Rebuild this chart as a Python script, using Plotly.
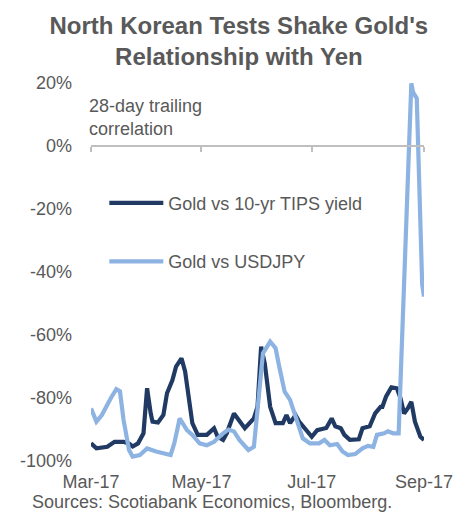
import plotly.graph_objects as go

# ---- data ----
TIPS_DATES = ["2017-03-01","2017-03-04","2017-03-10","2017-03-14","2017-03-19","2017-03-22","2017-03-24",
              "2017-03-27","2017-03-30","2017-04-01","2017-04-03","2017-04-04","2017-04-07","2017-04-10",
              "2017-04-12","2017-04-15","2017-04-17","2017-04-20","2017-04-22","2017-04-24","2017-04-26",
              "2017-04-29","2017-05-04","2017-05-08","2017-05-10","2017-05-13","2017-05-15","2017-05-19",
              "2017-05-21","2017-05-25","2017-05-30","2017-06-01","2017-06-03","2017-06-05","2017-06-08",
              "2017-06-11","2017-06-15","2017-06-17","2017-06-19","2017-06-22","2017-06-24","2017-06-27",
              "2017-07-01","2017-07-04","2017-07-09","2017-07-12","2017-07-14","2017-07-17","2017-07-19",
              "2017-07-22","2017-07-27","2017-07-29","2017-08-02","2017-08-05","2017-08-08","2017-08-09",
              "2017-08-11","2017-08-14","2017-08-17","2017-08-19","2017-08-21","2017-08-23","2017-08-25",
              "2017-08-27","2017-08-30","2017-09-01"]
TIPS_VALUES = [-94.4,-96.0,-95.5,-93.9,-93.9,-94.5,-95.4,
               -94.4,-91.2,-76.9,-84.9,-87.5,-87.8,-85.4,
               -78.5,-74.3,-70.0,-67.4,-71.6,-80.6,-88.0,
               -91.7,-91.7,-89.6,-92.3,-93.3,-91.2,-84.9,
               -86.5,-89.6,-86.5,-82.8,-63.7,-69.0,-82.8,
               -88.0,-88.0,-85.4,-88.0,-85.4,-87.5,-89.6,
               -92.3,-90.2,-89.5,-86.5,-89.0,-89.6,-91.7,
               -93.3,-93.1,-89.6,-89.0,-84.9,-82.8,-82.8,
               -79.6,-76.6,-76.9,-80.0,-84.9,-83.3,-81.2,
               -87.5,-92.3,-93.3]

JPY_DATES = ["2017-03-01","2017-03-04","2017-03-07","2017-03-10","2017-03-12","2017-03-15","2017-03-17",
             "2017-03-19","2017-03-22","2017-03-24","2017-03-28","2017-04-01","2017-04-06","2017-04-14",
             "2017-04-16","2017-04-19","2017-04-23","2017-04-26","2017-04-30","2017-05-04","2017-05-08",
             "2017-05-13","2017-05-16","2017-05-19","2017-05-22","2017-05-27","2017-05-30","2017-06-01",
             "2017-06-04","2017-06-08","2017-06-11","2017-06-13","2017-06-16","2017-06-19","2017-06-23",
             "2017-06-26","2017-06-30","2017-07-05","2017-07-08","2017-07-11","2017-07-15","2017-07-18",
             "2017-07-21","2017-07-25","2017-07-29","2017-08-01","2017-08-04","2017-08-06","2017-08-10",
             "2017-08-12","2017-08-15","2017-08-18","2017-08-25","2017-08-26","2017-08-28","2017-08-31",
             "2017-09-01"]
JPY_VALUES = [-83.3,-87.5,-85.4,-81.7,-80.0,-77.2,-77.9,
              -87.0,-96.5,-98.6,-98.1,-96.0,-97.0,-98.1,
              -94.4,-86.5,-90.2,-91.7,-94.4,-95.0,-93.9,
              -91.2,-90.0,-90.6,-93.3,-96.5,-95.5,-83.8,
              -65.8,-62.1,-64.2,-70.0,-78.0,-80.6,-87.5,
              -92.8,-94.4,-94.4,-93.3,-95.0,-94.6,-97.0,
              -98.1,-97.8,-96.0,-95.2,-95.5,-91.7,-91.2,
              -90.6,-91.2,-91.2,19.9,17.0,15.1,-44.0,
              -47.8]

X_TICKS = ["2017-03-01", "2017-05-01", "2017-07-01", "2017-09-01"]
X_TICK_LABELS = ["Mar-17", "May-17", "Jul-17", "Sep-17"]
Y_TICKS = [-100, -80, -60, -40, -20, 0, 20]
Y_TICK_LABELS = ["-100%", "-80%", "-60%", "-40%", "-20%", "0%", "20%"]

SERIES_NAMES = ["Gold vs 10-yr TIPS yield", "Gold vs USDJPY"]
DARK = "#203a63"
LIGHT = "#8db3e2"
GRAY_TXT = "#595959"
AXIS_GRAY = "#bfbfbf"
FONT = "Liberation Sans, Arial, sans-serif"

fig = go.Figure()
fig.add_trace(go.Scatter(x=TIPS_DATES, y=TIPS_VALUES, mode="lines", name=SERIES_NAMES[0],
                         legendgroup="a", line=dict(color=DARK, width=4.2), hoverinfo="skip"))
fig.add_trace(go.Scatter(x=JPY_DATES, y=JPY_VALUES, mode="lines", name=SERIES_NAMES[1],
                         legendgroup="b", line=dict(color=LIGHT, width=4.2), hoverinfo="skip"))
# empty trace to activate the zero-line axis
fig.add_trace(go.Scatter(x=[], y=[], xaxis="x2", showlegend=False, hoverinfo="skip"))

fig.update_layout(
    width=455, height=514,
    margin=dict(l=91, r=31, t=83, b=53, autoexpand=False),
    paper_bgcolor="white", plot_bgcolor="white",
    font=dict(family=FONT, size=18, color=GRAY_TXT),
    title=dict(text="<b>North Korean Tests Shake Gold's<br>Relationship with Yen</b>",
               x=0.525, xanchor="center", y=1 - 34 / 514, yanchor="middle",
               font=dict(family=FONT, size=24, color=GRAY_TXT)),
    xaxis=dict(type="date", range=["2017-03-01", "2017-09-01"], tickvals=X_TICKS, ticktext=X_TICK_LABELS,
               showgrid=False, zeroline=False, showline=False, ticks="", automargin=False,
               tickfont=dict(size=18, color=GRAY_TXT), ticklabelstandoff=8),
    xaxis2=dict(type="date", overlaying="x", matches="x", anchor="free", position=100/120,
                tickvals=X_TICKS, showticklabels=False, showgrid=False, zeroline=False,
                showline=True, linecolor=AXIS_GRAY, linewidth=2, automargin=False,
                ticks="outside", ticklen=5, tickwidth=2, tickcolor=AXIS_GRAY),
    yaxis=dict(range=[-100, 20], tickvals=Y_TICKS, ticktext=Y_TICK_LABELS,
               showgrid=False, zeroline=False, showline=False, ticks="", automargin=False,
               tickfont=dict(size=18, color=GRAY_TXT), ticklabelstandoff=18),
    legend=dict(x=0.04, y=0.731, xanchor="left", yanchor="top", bgcolor="rgba(0,0,0,0)",
                font=dict(size=18, color=GRAY_TXT), traceorder="grouped", tracegroupgap=32,
                itemwidth=54),
    showlegend=True,
)

fig.add_annotation(text="28-day trailing<br>correlation", xref="paper", yref="y", x=-0.012, y=9.2,
                   xanchor="left", yanchor="middle", align="left", showarrow=False,
                   font=dict(size=18, color=GRAY_TXT))
fig.add_annotation(text="Sources: Scotiabank Economics, Bloomberg.", xref="paper", yref="paper",
                   x=-0.183, y=-0.078, xanchor="left", yanchor="top", align="left", showarrow=False,
                   font=dict(size=18, color=GRAY_TXT))

fig.write_html("out.html", config={"displayModeBar": False},
               post_script="document.body.style.margin='0';document.body.style.overflow='hidden';")
